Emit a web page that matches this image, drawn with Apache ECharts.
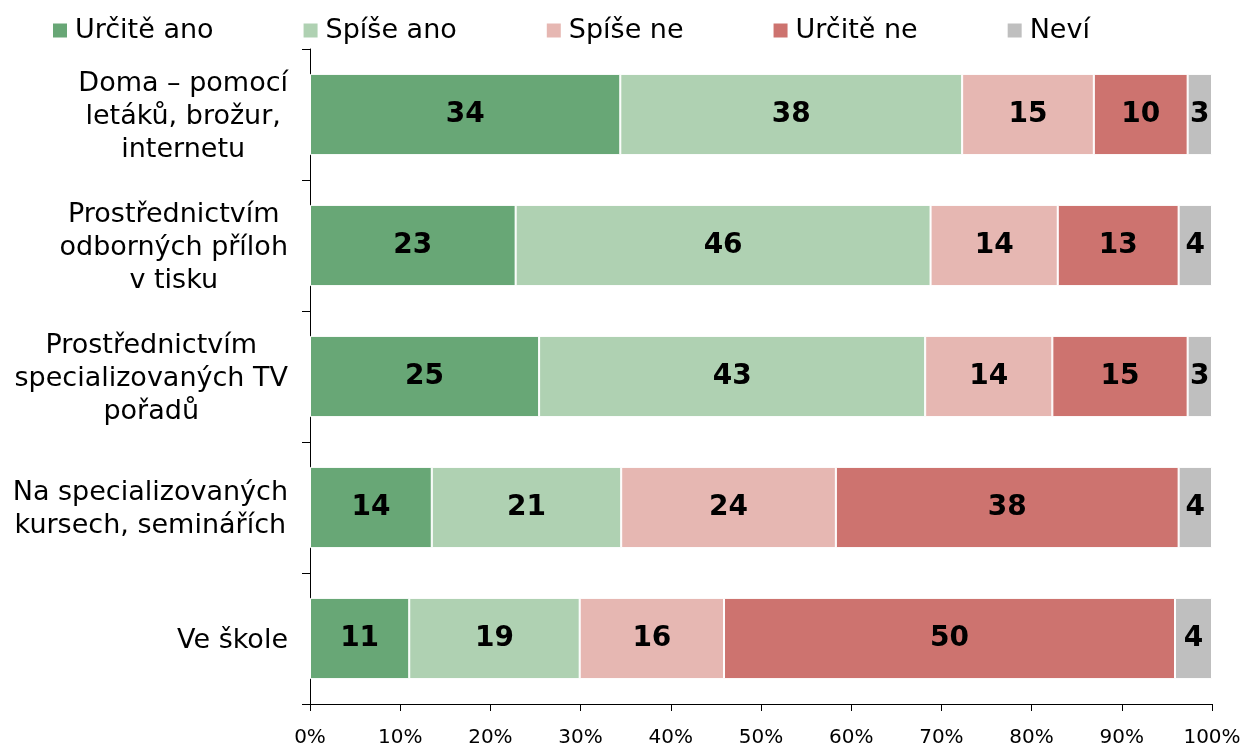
<!DOCTYPE html>
<html>
<head>
<meta charset="utf-8">
<script src="https://cdn.jsdelivr.net/npm/echarts@6/dist/echarts.min.js"></script>
<style>
  html, body { margin: 0; padding: 0; background: #fff; }
  #chart { width: 1245px; height: 748px; }
</style>
</head>
<body>
<div id="chart"></div>
<script>
// categories, top to bottom
const categories = [
  'Doma – pomocí\nletáků, brožur,\ninternetu',
  'Prostřednictvím\nodborných příloh\nv tisku',
  'Prostřednictvím\nspecializovaných TV\npořadů',
  'Na specializovaných\nkursech, seminářích',
  'Ve škole'
];

const seriesNames = ['Určitě ano', 'Spíše ano', 'Spíše ne', 'Určitě ne', 'Neví'];
const colors = ['#68a776', '#afd1b2', '#e6b7b2', '#cd736f', '#bfbfbf'];

// shares in % (labels show rounded values)
const urciteAno = [34.4, 22.8, 25.4, 13.5, 11.0];
const spiseAno  = [37.9, 46.0, 42.8, 21.0, 18.9];
const spiseNe   = [14.6, 14.1, 14.1, 23.8, 16.0];
const urciteNe  = [10.4, 13.4, 15.0, 38.0, 50.0];
const nevi      = [2.7, 3.7, 2.7, 3.7, 4.1];

const values = [urciteAno, spiseAno, spiseNe, urciteNe, nevi];

const chart = echarts.init(document.getElementById('chart'));

const font = '"DejaVu Sans", Verdana, sans-serif';

chart.setOption({
  animation: false,
  textStyle: { fontFamily: font },
  legend: {
    top: 12,
    left: 46,
    itemWidth: 16,
    itemHeight: 16,
    itemGap: 88,
    icon: 'rect',
    textStyle: { fontFamily: font, fontSize: 27, color: '#000', padding: [0, 0, 0, 2] },
    data: seriesNames
  },
  grid: { left: 310, right: 33, top: 49, bottom: 40 },
  xAxis: {
    type: 'value',
    min: 0,
    max: 100,
    interval: 10,
    axisLine: { show: true, lineStyle: { color: '#000' } },
    axisTick: { show: true, length: 7, lineStyle: { color: '#000' } },
    splitLine: { show: false },
    axisLabel: {
      formatter: '{value}%',
      fontFamily: font,
      fontSize: 20,
      color: '#000',
      margin: 24
    }
  },
  yAxis: {
    type: 'category',
    inverse: true,
    data: categories,
    axisLine: { show: true, lineStyle: { color: '#000' } },
    axisTick: { show: true, length: 8, lineStyle: { color: '#000' } },
    axisLabel: {
      margin: 22,
      align: 'right',
      formatter: function (v) {
        return v.split('\n').map(function (l) { return '{c|' + l + '}'; }).join('\n');
      },
      rich: {
        c: { align: 'center', fontFamily: font, fontSize: 27, lineHeight: 33, color: '#000', padding: [4, 0, 0, 0] }
      }
    }
  },
  series: seriesNames.map(function (name, i) {
    return {
      name: name,
      type: 'bar',
      stack: 'all',
      barCategoryGap: '38%',
      data: values[i],
      itemStyle: { color: colors[i], borderColor: '#fff', borderWidth: 1 },
      label: {
        show: true,
        position: 'inside',
        formatter: function (p) { return Math.round(p.value); },
        fontFamily: font,
        fontWeight: 'bold',
        fontSize: 28,
        color: '#000'
      }
    };
  })
});
</script>
</body>
</html>
